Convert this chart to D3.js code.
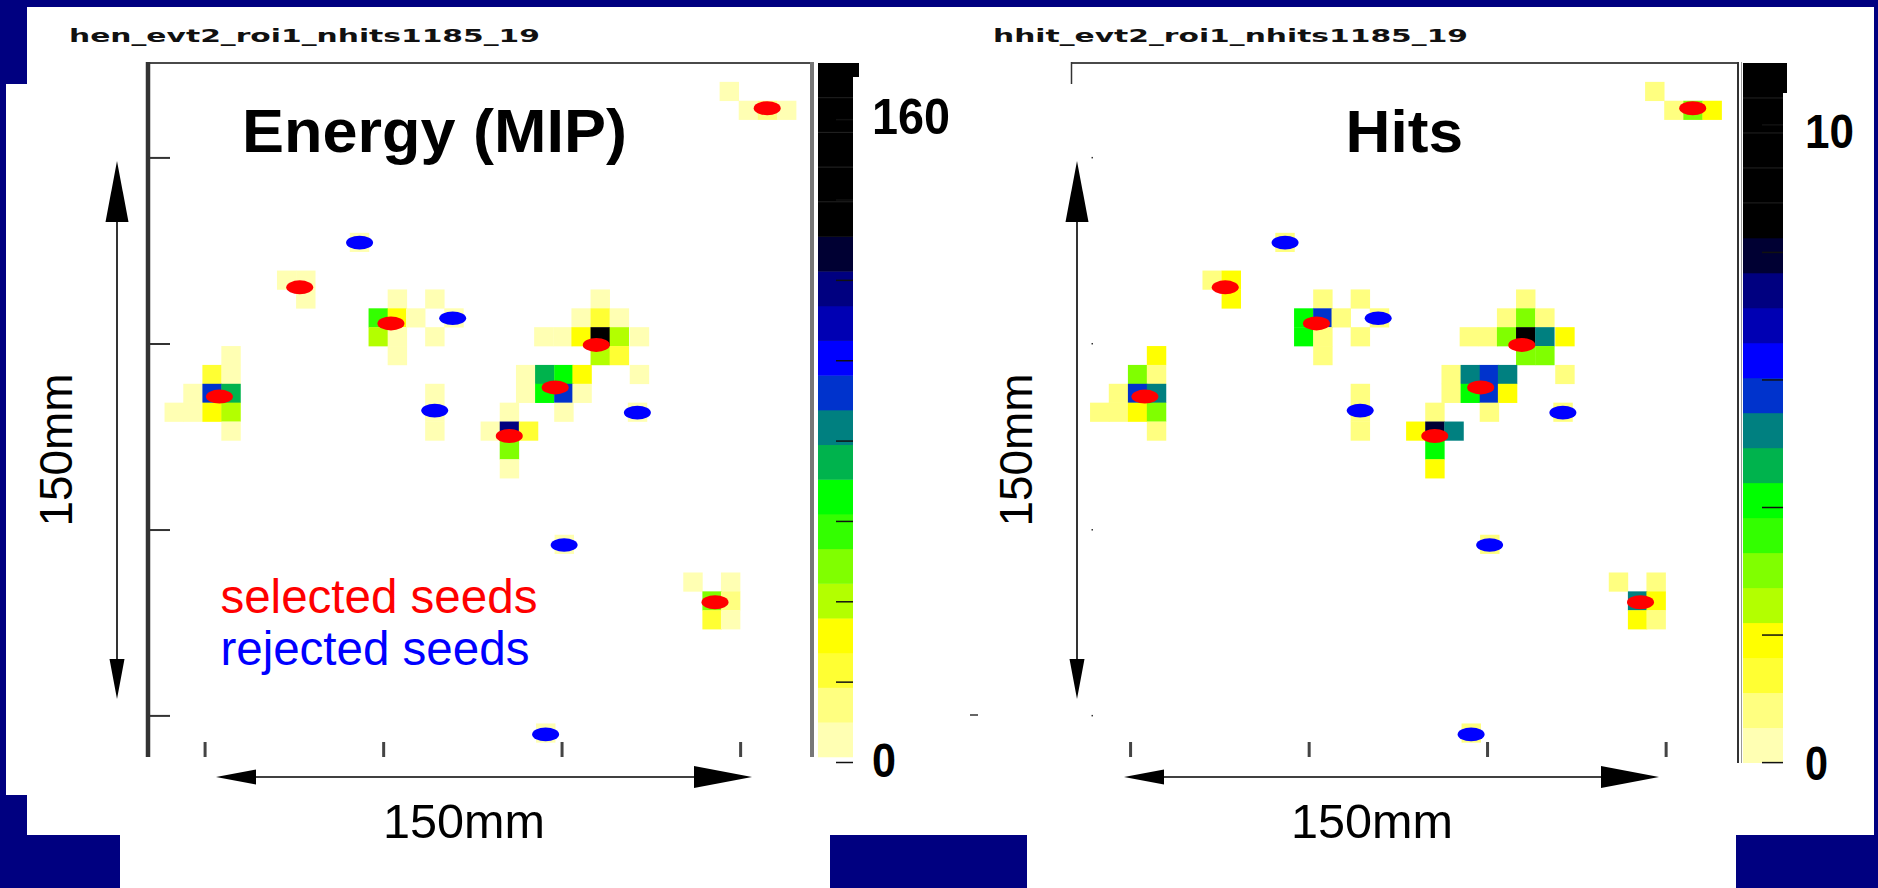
<!DOCTYPE html>
<html><head><meta charset="utf-8">
<script src="https://cdn.jsdelivr.net/npm/d3@7"></script>
<style>body{margin:0;background:#000080;overflow:hidden}svg{display:block}</style>
</head><body><svg id="c" width="1878" height="888"></svg>
<script>
// ---------------- data ----------------
const palette = ["#ffffb3","#ffff80","#ffff33","#ffff00","#b3ff00","#80ff00","#33ff00","#00ff00","#00b34d","#008080",
                 "#0033cc","#0000ff","#0000b3","#000080","#000033","#000000","#000000","#000000","#000000","#000000"];
// hit cells: column / row position (pad units), energy (MIP), number of hits
const cellU = [30,31,32,33, 10.66, 6.85,7.85,7.85,
  12.64,14.6,11.64,12.64,13.6,15.6,11.64,12.64,12.64,14.6,
  23.25,22.25,23.25,24.25,20.3,21.3,22.25,23.25,24.25,25.3,23.25,24.25,25.3,
  19.35,20.35,21.35,22.3,19.35,20.35,21.35,22.3,21.35,
  14.6,14.6,14.6, 25.2,
  18.5,17.5,18.5,19.5,18.5,18.5,
  3.94,2.95,3.94,1.95,2.95,3.94,0.97,1.95,2.95,3.94,3.94,
  21.37, 28.1,30.07,29.1,30.07,29.1,30.07, 20.4];
const cellV = [1,2,2,2, 9, 11,11,12,
  12,12,13,13,13,13,14,14,15,14,
  12,13,13,13,14,14,14,14,14,14,15,15,16,
  16,16,16,16,17,17,17,17,18,
  17,18,19, 18,
  18,19,19,19,20,21,
  15,16,16,17,17,17,18,18,18,18,19,
  25, 27,27,28,28,29,29, 35];
const energyMIP = [4,5,15,7, 5, 4,7,6,
  4,5,57,31,5,4,40,5,4,5,
  6,5,23,4,5,6,31,160,40,5,41,22,5,
  5,75,66,30,4,64,92,6,5,
  5,5,4, 5,
  5,6,118,24,48,5,
  6,23,5,5,92,75,4,6,31,40,5,
  5, 4,5,49,14,23,5, 5];
const hitCounts = [1,1,3,2, 1, 1,2,2,
  1,1,4,6,1,1,4,1,1,1,
  1,1,3,1,1,1,3,9,5,2,3,3,1,
  1,5,6,5,1,4,6,2,1,
  1,1,1, 1,
  1,2,8,5,4,2,
  2,3,1,1,6,5,1,1,2,3,1,
  1, 1,1,5,2,2,1, 1];
const selectedSeeds = [[32.49,2.4],[8.04,11.89],[12.81,13.8],[23.55,14.94],[21.4,17.19],[3.84,17.68],[19.0,19.77],[29.76,28.58]];
const rejectedSeeds = [[11.17,9.52],[16.04,13.53],[15.1,18.42],[25.7,18.53],[21.87,25.54],[20.9,35.58]];
const energyRange = [1.4,174.1];
const hitRange = [0,10.97];
const energyTicks = [0,20,40,60,80,100,120,140,160];
const hitTicks = [0,2,4,6,8,10];
const energyTickLabels = [0,160];
const hitTickLabels = [0,10];
const xTicks = [3.09,12.43,21.76,31.1];
const yTicks = [5.03,14.89,24.75,34.6];
const titles = ["hen_evt2_roi1_nhits1185_19","hhit_evt2_roi1_nhits1185_19"];
const headings = ["Energy (MIP)","Hits"];
const axisLabel = "150mm";
const legendTexts = ["selected seeds","rejected seeds"];

// ---------------- drawing ----------------
const svg = d3.select("#c");
const FONT = "'Liberation Sans', Arial, Helvetica, sans-serif";
const defs = svg.append("defs");
defs.append("filter").attr("id","soft").append("feGaussianBlur").attr("stdDeviation",0.7);
svg.append("rect").attr("width",1878).attr("height",888).attr("fill","#000080");
// white slide areas
[[27,7,1847,828],[6,84,21,711],[120,835,710,53],[1027,835,709,53]].forEach(r=>
  svg.append("rect").attr("x",r[0]).attr("y",r[1]).attr("width",r[2]).attr("height",r[3]).attr("fill","#fff"));

const cells = cellU.map((u,i)=>({u, v:cellV[i], e:energyMIP[i], h:hitCounts[i]}));

function panel(cfg){
  const g = svg.append("g");
  const x = d3.scaleLinear().domain([0,35]).range([cfg.x0, cfg.x0+35*19.12]);
  const y = d3.scaleLinear().domain([0,36.78]).range([63, 63+36.78*18.87]);
  const col = d3.scaleQuantize().domain(cfg.range).range(palette);
  // cells
  g.selectAll("rect.cell").data(cells).join("rect").attr("class","cell")
    .attr("x",d=>x(d.u)).attr("y",d=>y(d.v))
    .attr("width",d=>x(d.u+1)-x(d.u)+0.3).attr("height",d=>y(d.v+1)-y(d.v)+0.3)
    .attr("fill",d=>col(cfg.val(d)));
  // seeds
  g.selectAll("ellipse.sel").data(selectedSeeds).join("ellipse").attr("filter","url(#soft)")
    .attr("cx",d=>x(d[0])).attr("cy",d=>y(d[1])).attr("rx",13.5).attr("ry",7).attr("fill","#ff0000");
  g.selectAll("ellipse.rej").data(rejectedSeeds).join("ellipse").attr("filter","url(#soft)")
    .attr("cx",d=>x(d[0])).attr("cy",d=>y(d[1])).attr("rx",13.5).attr("ry",6.8).attr("fill","#0000ff");
  // frame
  const L = cfg.x0, R = cfg.x0 + cfg.frameW;
  g.append("line").attr("x1",L).attr("x2",R).attr("y1",63).attr("y2",63).attr("stroke","#4a4a4a").attr("stroke-width",2);
  if(cfg.left){
    g.append("line").attr("x1",L+2).attr("x2",L+2).attr("y1",62).attr("y2",757).attr("stroke","#333").attr("stroke-width",4.5);
    g.selectAll("line.yt").data(yTicks).join("line").attr("x1",L+2).attr("x2",L+24)
      .attr("y1",d=>y(d)).attr("y2",d=>y(d)).attr("stroke","#333").attr("stroke-width",2);
    g.append("line").attr("x1",R).attr("x2",R).attr("y1",62).attr("y2",757).attr("stroke","#777").attr("stroke-width",4);
  } else {
    g.append("line").attr("x1",L).attr("x2",L).attr("y1",62).attr("y2",84).attr("stroke","#333").attr("stroke-width",1.5);
    g.selectAll("rect.yt").data(yTicks).join("rect").attr("x",L+20).attr("y",d=>y(d)-1).attr("width",1.5).attr("height",1.5).attr("fill","#333");
    g.append("line").attr("x1",R).attr("x2",R).attr("y1",62).attr("y2",763).attr("stroke","#333").attr("stroke-width",2);
    g.append("line").attr("x1",R+3.5).attr("x2",R+3.5).attr("y1",62).attr("y2",763).attr("stroke","#999").attr("stroke-width",1);
  }
  g.selectAll("line.xt").data(xTicks).join("line").attr("x1",d=>x(d)).attr("x2",d=>x(d))
    .attr("y1",742).attr("y2",757).attr("stroke","#444").attr("stroke-width",3);
  // colour bar
  const cb = d3.scaleLinear().domain([0,cfg.range[1]]).range([cfg.cbZero,63]);
  const step = (cfg.range[1]-cfg.range[0])/palette.length;
  g.selectAll("rect.cb").data(palette).join("rect")
    .attr("x",cfg.cbX).attr("width",cfg.cbW)
    .attr("y",(d,i)=>cb(cfg.range[0]+(i+1)*step)).attr("height",(d,i)=>cb(cfg.range[0]+i*step)-cb(cfg.range[0]+(i+1)*step)+0.4)
    .attr("fill",d=>d);
  g.selectAll("line.cbsep").data(d3.range(16,20)).join("line")
    .attr("x1",cfg.cbX).attr("x2",cfg.cbX+cfg.cbW).attr("y1",i=>cb(cfg.range[0]+i*step)).attr("y2",i=>cb(cfg.range[0]+i*step))
    .attr("stroke","#222").attr("stroke-width",1);
  g.append("rect").attr("x",cfg.cbX).attr("y",63).attr("width",cfg.cbW+cfg.cbExtra[0]).attr("height",cfg.cbExtra[1]).attr("fill","#000");
  g.selectAll("line.cbt").data(cfg.ticks).join("line")
    .attr("x1",cfg.cbX+cfg.cbW-cfg.tickLen).attr("x2",cfg.cbX+cfg.cbW).attr("y1",d=>cb(d)).attr("y2",d=>cb(d))
    .attr("stroke","#111").attr("stroke-width",1.5);
  g.selectAll("text.cbl").data(cfg.labels).join("text")
    .attr("x",cfg.labX).attr("y",(d,i)=>cb(d)+cfg.labDy[i]).attr("font-family",FONT).attr("font-weight","bold")
    .attr("font-size",(d,i)=>cfg.labSize[i]).attr("textLength",(d,i)=>cfg.labLen[i]).attr("lengthAdjust","spacingAndGlyphs")
    .attr("fill","#000").text(d=>d);
  // texts
  g.append("text").attr("x",cfg.titleX).attr("y",42).attr("font-family","'DejaVu Sans', sans-serif").attr("font-weight","bold")
    .attr("font-size",18.5).attr("textLength",cfg.titleLen).attr("lengthAdjust","spacingAndGlyphs").attr("fill","#111").text(cfg.title);
  g.append("text").attr("x",cfg.headX).attr("y",151.7).attr("font-family",FONT).attr("font-weight","bold")
    .attr("font-size",cfg.headSize).attr("textLength",cfg.headLen).attr("lengthAdjust","spacingAndGlyphs").attr("fill","#000").text(cfg.head);
  // mm annotations
  const ax = cfg.arrowX, hy = 777;
  g.append("line").attr("x1",ax).attr("x2",ax).attr("y1",200).attr("y2",680).attr("stroke","#000").attr("stroke-width",1.6);
  g.append("path").attr("d",`M${ax},161L${ax-11.5},222L${ax+11.5},222Z`).attr("fill","#000");
  g.append("path").attr("d",`M${ax},699L${ax-7.5},659L${ax+7.5},659Z`).attr("fill","#000");
  const [h0,h1] = cfg.hArrow;
  g.append("line").attr("x1",h0+20).attr("x2",h1-20).attr("y1",hy).attr("y2",hy).attr("stroke","#000").attr("stroke-width",1.6);
  g.append("path").attr("d",`M${h0},${hy}L${h0+40},${hy-7.5}L${h0+40},${hy+7.5}Z`).attr("fill","#000");
  g.append("path").attr("d",`M${h1},${hy}L${h1-58},${hy-11}L${h1-58},${hy+11}Z`).attr("fill","#000");
  g.append("text").attr("transform",`translate(${cfg.vTextX},450) rotate(-90)`).attr("text-anchor","middle")
    .attr("font-family",FONT).attr("font-size",47).attr("textLength",153).attr("lengthAdjust","spacingAndGlyphs").text(axisLabel);
  g.append("text").attr("x",cfg.hTextX).attr("y",838).attr("text-anchor","middle")
    .attr("font-family",FONT).attr("font-size",49).attr("textLength",162).attr("lengthAdjust","spacingAndGlyphs").text(axisLabel);
  return g;
}

const gl = panel({x0:146, frameW:666, left:true, range:energyRange, val:d=>d.e,
  cbX:818, cbW:35, cbZero:762.5, cbExtra:[6,14], ticks:energyTicks, tickLen:17,
  labels:energyTickLabels, labX:872, labDy:[14,14], labSize:[48,50], labLen:[24,78],
  title:titles[0], titleX:69, titleLen:471, head:headings[0], headX:242, headSize:61, headLen:385,
  arrowX:117, hArrow:[216,752], vTextX:72, hTextX:464});
const gr = panel({x0:1071.5, frameW:666.5, left:false, range:hitRange, val:d=>d.h,
  cbX:1743, cbW:40, cbZero:762.6, cbExtra:[4,30], ticks:hitTicks, tickLen:21,
  labels:hitTickLabels, labX:1805, labDy:[17,23], labSize:[48,49], labLen:[23,49],
  title:titles[1], titleX:993, titleLen:475, head:headings[1], headX:1345.6, headSize:59, headLen:117.5,
  arrowX:1077, hArrow:[1124,1659], vTextX:1032, hTextX:1372});

// legend
svg.append("text").attr("x",220.4).attr("y",612.7).attr("font-family",FONT).attr("font-size",48)
  .attr("textLength",317).attr("lengthAdjust","spacingAndGlyphs").attr("fill","#ff0000").text(legendTexts[0]);
svg.append("text").attr("x",220.4).attr("y",665).attr("font-family",FONT).attr("font-size",48)
  .attr("textLength",309).attr("lengthAdjust","spacingAndGlyphs").attr("fill","#0000ff").text(legendTexts[1]);
// stray tick between the panels
svg.append("line").attr("x1",970).attr("x2",978).attr("y1",715).attr("y2",715).attr("stroke","#333").attr("stroke-width",1.5);
</script></body></html>
